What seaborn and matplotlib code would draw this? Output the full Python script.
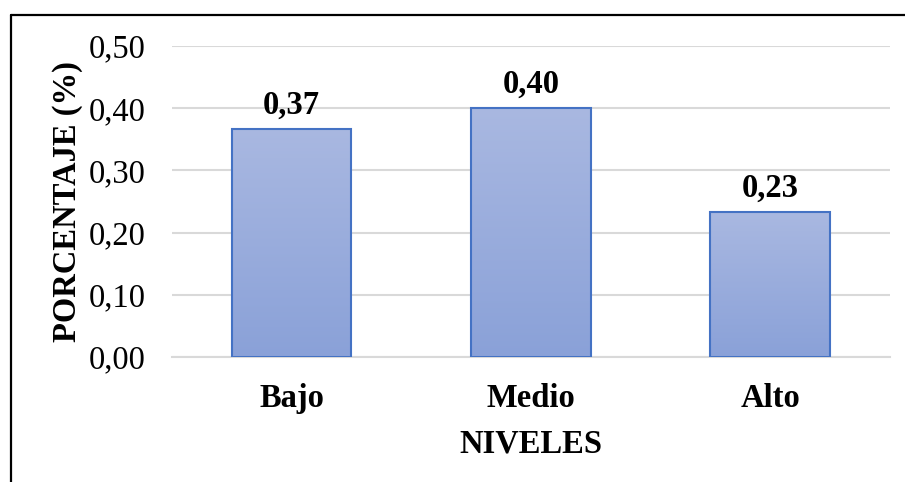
import numpy as np
import pandas as pd
import seaborn as sns
import matplotlib.pyplot as plt
from matplotlib.colors import LinearSegmentedColormap
from matplotlib.lines import Line2D

niveles = ['Bajo', 'Medio', 'Alto']
porcentaje = [0.367, 0.400, 0.233]
yticks = [0.0, 0.1, 0.2, 0.3, 0.4, 0.5]

sns.set_theme(style='white')
plt.rcParams['font.family'] = ['Liberation Serif', 'DejaVu Serif']
plt.rcParams['text.color'] = 'black'
plt.rcParams['axes.labelcolor'] = 'black'
plt.rcParams['xtick.color'] = 'black'
plt.rcParams['ytick.color'] = 'black'

fs = 23.5
df = pd.DataFrame({'nivel': niveles, 'pct': porcentaje})

fig = plt.figure(figsize=(9.05, 4.82), dpi=100)
ax = fig.add_axes([0.190, 0.2593, 0.793, 0.6453])

sns.barplot(data=df, x='nivel', y='pct', width=0.5, color='#98acdc',
            edgecolor='#4472c4', linewidth=1.5, ax=ax, zorder=3)

# gradient fill like the office chart
cmap = LinearSegmentedColormap.from_list('grad', ['#8aa1d8', '#a9b8e1'])
grad = np.linspace(0, 1, 256).reshape(-1, 1)
for p in ax.patches:
	x0, y0 = p.get_x(), p.get_y()
	w, h = p.get_width(), p.get_height()
	im = ax.imshow(grad, extent=[x0, x0 + w, y0, y0 + h], origin='lower',
	               aspect='auto', cmap=cmap, zorder=2.5)
	im.set_clip_path(p)
	p.set_facecolor('none')

ax.set_xlim(-0.5, 2.5)
ax.set_ylim(0, 0.5)
ax.set_yticks(yticks)
ax.set_yticklabels([('%.2f' % t).replace('.', ',') for t in yticks], fontsize=fs)
ax.set_xticks(range(len(niveles)))
ax.set_xticklabels(niveles, fontsize=fs, fontweight='bold')
ax.tick_params(axis='y', length=0, pad=19)
ax.tick_params(axis='x', length=0, pad=18.5)

ax.grid(axis='y', color='#d9d9d9', linewidth=1.5, zorder=0)
ax.set_axisbelow(True)
for s in ['top', 'right', 'left']:
	ax.spines[s].set_visible(False)
ax.spines['bottom'].set_color('#d9d9d9')
ax.spines['bottom'].set_linewidth(1.5)

for i, v in enumerate(porcentaje):
	ax.annotate(('%.2f' % v).replace('.', ','), (i, v), xytext=(0, 6),
	            textcoords='offset points', ha='center', va='bottom',
	            fontsize=fs, fontweight='bold', zorder=5)

ax.set_xlabel('NIVELES', fontsize=fs, fontweight='bold', labelpad=11)
ax.set_ylabel('PORCENTAJE (%)', fontsize=fs, fontweight='bold', labelpad=4)

# frame around the chart (only top and left visible in the crop)
fig.add_artist(Line2D([0.0122, 1.0], [0.969, 0.969], color='black', lw=1.6))
fig.add_artist(Line2D([0.0122, 0.0122], [0.0, 0.969], color='black', lw=1.6))

fig.savefig('out.png', dpi=100)
